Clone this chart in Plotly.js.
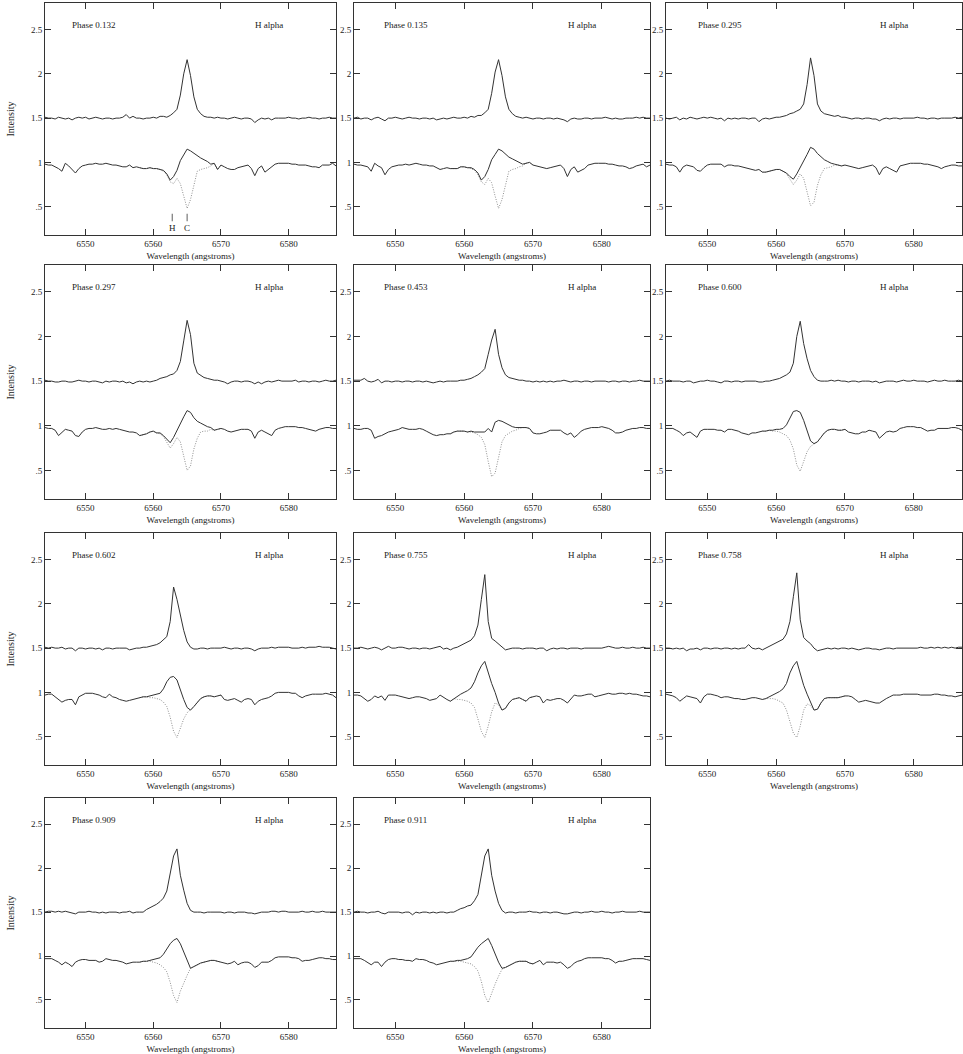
<!DOCTYPE html>
<html><head><meta charset="utf-8">
<script src="https://cdn.plot.ly/plotly-3.0.1.min.js"></script>
<style>html,body{margin:0;padding:0;background:#fff}#chart{width:963px;height:1054px}</style>
</head><body><div id="chart"></div>
<script>
// Wavelength grid (angstroms)
const WL = [6544,6544.5,6545,6545.5,6546,6546.5,6547,6547.5,6548,6548.5,
6549,6549.5,6550,6550.5,6551,6551.5,6552,6552.5,6553,6553.5,
6554,6554.5,6555,6555.5,6556,6556.5,6557,6557.5,6558,6558.5,
6559,6559.5,6560,6560.5,6561,6561.5,6562,6562.5,6563,6563.5,
6564,6564.5,6565,6565.5,6566,6566.5,6567,6567.5,6568,6568.5,
6569,6569.5,6570,6570.5,6571,6571.5,6572,6572.5,6573,6573.5,
6574,6574.5,6575,6575.5,6576,6576.5,6577,6577.5,6578,6578.5,
6579,6579.5,6580,6580.5,6581,6581.5,6582,6582.5,6583,6583.5,
6584,6584.5,6585,6585.5,6586,6586.5,6587];
const WL_CORE = [6558,6558.5,6559,6559.5,6560,6560.5,6561,6561.5,6562,6562.5,6563,6563.5,6564,6564.5,6565,6565.5,6566,6566.5,6567,6567.5,6568,6568.5,6569,6569.5,6570];

const PHASES = ['0.132','0.135','0.295','0.297','0.453','0.600','0.602','0.755','0.758','0.909','0.911'];
const LINE_NAME = 'H alpha';
const MARK_WL = [6562.8, 6565.0];
const MARK_TXT = ['H', 'C'];
const MARK_Y = 0.42;

// Phase 0.132
const TOP_0132 = [1.51,1.50,1.50,1.49,1.51,1.50,1.49,1.50,1.48,1.50,
1.51,1.50,1.51,1.49,1.50,1.51,1.50,1.49,1.50,1.50,
1.49,1.50,1.50,1.51,1.54,1.50,1.52,1.50,1.50,1.49,
1.50,1.50,1.51,1.50,1.52,1.52,1.51,1.53,1.56,1.60,
1.76,2.00,2.16,1.98,1.74,1.60,1.55,1.52,1.51,1.51,
1.50,1.51,1.50,1.50,1.49,1.50,1.51,1.50,1.49,1.50,
1.50,1.49,1.45,1.48,1.50,1.49,1.50,1.48,1.50,1.50,
1.50,1.50,1.51,1.50,1.50,1.49,1.50,1.50,1.51,1.50,
1.50,1.49,1.50,1.50,1.51,1.50,1.50];
const OBS_0132 = [0.98,0.97,0.97,0.95,0.93,0.90,0.99,0.96,0.92,0.88,
0.93,0.96,0.97,0.98,0.98,0.99,0.98,0.98,0.99,0.98,
0.97,0.97,0.96,0.95,0.95,0.97,0.94,0.95,0.94,0.93,
0.93,0.94,0.93,0.93,0.92,0.91,0.87,0.80,0.84,0.91,
1.02,1.09,1.15,1.13,1.10,1.07,1.05,1.03,1.01,0.98,
0.99,0.92,0.97,0.95,0.93,0.92,0.92,0.94,0.95,0.96,
0.97,0.93,0.85,0.93,0.96,0.89,0.92,0.95,0.98,0.99,
0.99,0.99,0.99,0.98,0.98,0.97,0.97,0.97,0.96,0.95,
0.95,0.94,0.97,0.97,0.97,0.99,0.96];
const MOD_0132 = [0.94,0.93,0.93,0.94,0.93,0.93,0.92,0.90,0.86,0.78,0.76,0.82,0.76,0.62,0.48,0.58,0.76,0.90,0.92,0.93,0.94,0.96,0.99,0.92,0.97];

// Phase 0.135
const TOP_0135 = [1.50,1.51,1.49,1.50,1.50,1.48,1.50,1.51,1.49,1.47,
1.50,1.50,1.51,1.50,1.49,1.50,1.51,1.50,1.50,1.49,
1.50,1.50,1.49,1.50,1.48,1.49,1.50,1.49,1.50,1.51,
1.50,1.50,1.51,1.50,1.52,1.51,1.53,1.53,1.56,1.60,
1.78,2.02,2.16,1.98,1.74,1.60,1.55,1.52,1.51,1.50,
1.51,1.50,1.49,1.50,1.50,1.49,1.50,1.50,1.49,1.50,
1.49,1.48,1.46,1.49,1.50,1.49,1.49,1.50,1.50,1.49,
1.50,1.50,1.50,1.51,1.50,1.49,1.50,1.49,1.49,1.50,
1.50,1.50,1.51,1.50,1.51,1.50,1.50];
const OBS_0135 = [0.98,0.97,0.97,0.96,0.95,0.90,0.99,0.96,0.94,0.86,
0.92,0.95,0.96,0.97,0.97,0.98,0.97,0.98,0.99,0.98,
0.97,0.97,0.96,0.96,0.94,0.92,0.93,0.94,0.93,0.93,
0.93,0.95,0.95,0.94,0.94,0.92,0.88,0.80,0.84,0.92,
1.03,1.09,1.15,1.13,1.09,1.06,1.04,1.02,1.00,0.98,
0.99,1.00,0.97,0.96,0.95,0.94,0.93,0.94,0.95,0.96,
0.97,0.93,0.84,0.92,0.95,0.89,0.91,0.93,0.97,0.98,
0.99,0.99,0.99,0.99,0.98,0.98,0.97,0.96,0.96,0.95,
0.93,0.94,0.96,0.97,0.98,0.95,0.97];
const MOD_0135 = [0.93,0.93,0.93,0.95,0.95,0.94,0.93,0.91,0.86,0.78,0.75,0.82,0.77,0.62,0.48,0.58,0.76,0.90,0.92,0.93,0.95,0.96,0.99,1.00,0.97];

// Phase 0.295
const TOP_0295 = [1.50,1.49,1.50,1.51,1.48,1.50,1.49,1.51,1.50,1.49,
1.50,1.51,1.50,1.51,1.50,1.49,1.50,1.47,1.50,1.49,
1.50,1.49,1.50,1.50,1.49,1.50,1.50,1.46,1.49,1.50,
1.49,1.50,1.51,1.51,1.52,1.53,1.55,1.56,1.58,1.60,
1.66,1.88,2.18,1.98,1.66,1.58,1.55,1.54,1.53,1.52,
1.53,1.51,1.51,1.50,1.49,1.50,1.50,1.49,1.50,1.50,
1.49,1.49,1.47,1.49,1.50,1.49,1.50,1.50,1.49,1.50,
1.50,1.50,1.50,1.51,1.50,1.50,1.49,1.50,1.50,1.49,
1.50,1.50,1.50,1.50,1.51,1.50,1.51];
const OBS_0295 = [0.98,0.97,0.97,0.95,0.89,0.95,0.97,0.96,0.95,0.91,
0.90,0.94,0.97,0.98,0.98,0.98,0.98,0.95,0.97,0.97,
0.96,0.96,0.95,0.94,0.93,0.92,0.91,0.92,0.89,0.89,
0.90,0.91,0.92,0.92,0.90,0.88,0.84,0.81,0.87,0.94,
1.02,1.09,1.17,1.15,1.10,1.06,1.03,1.01,0.99,0.98,
0.97,0.96,0.97,0.96,0.95,0.94,0.93,0.94,0.95,0.96,
0.97,0.94,0.86,0.93,0.95,0.93,0.91,0.89,0.96,0.97,
0.98,0.99,0.99,0.99,0.99,0.98,0.98,0.97,0.96,0.95,
0.93,0.95,0.96,0.97,0.97,0.96,0.96];
const MOD_0295 = [0.89,0.89,0.90,0.91,0.92,0.92,0.90,0.87,0.81,0.75,0.80,0.87,0.82,0.66,0.51,0.55,0.74,0.86,0.93,0.94,0.95,0.97,0.97,0.96,0.97];

// Phase 0.297
const TOP_0297 = [1.51,1.50,1.50,1.49,1.49,1.50,1.50,1.49,1.49,1.50,
1.51,1.50,1.50,1.49,1.50,1.50,1.49,1.48,1.50,1.49,
1.50,1.50,1.49,1.50,1.48,1.49,1.47,1.49,1.50,1.49,
1.50,1.49,1.50,1.51,1.53,1.54,1.55,1.57,1.58,1.62,
1.72,1.95,2.18,2.02,1.70,1.59,1.56,1.54,1.53,1.52,
1.51,1.51,1.50,1.49,1.47,1.49,1.50,1.50,1.49,1.50,
1.50,1.49,1.47,1.49,1.47,1.49,1.50,1.49,1.50,1.51,
1.50,1.50,1.50,1.50,1.51,1.49,1.50,1.50,1.49,1.50,
1.50,1.49,1.50,1.51,1.50,1.50,1.51];
const OBS_0297 = [0.98,0.97,0.97,0.95,0.89,0.93,0.96,0.95,0.94,0.89,
0.88,0.93,0.96,0.97,0.97,0.98,0.97,0.96,0.96,0.97,
0.96,0.97,0.96,0.95,0.94,0.93,0.93,0.92,0.89,0.90,
0.91,0.93,0.94,0.92,0.92,0.89,0.85,0.81,0.87,0.95,
1.03,1.10,1.17,1.15,1.09,1.05,1.03,1.01,0.99,0.98,
0.95,0.96,0.97,0.96,0.94,0.93,0.94,0.95,0.96,0.96,
0.96,0.94,0.86,0.93,0.95,0.93,0.91,0.89,0.95,0.97,
0.98,0.99,0.99,0.99,0.99,0.98,0.98,0.97,0.96,0.95,
0.94,0.96,0.97,0.98,0.98,0.97,0.97];
const MOD_0297 = [0.89,0.90,0.91,0.93,0.94,0.92,0.91,0.88,0.82,0.75,0.80,0.87,0.82,0.66,0.50,0.55,0.74,0.86,0.93,0.94,0.94,0.96,0.95,0.96,0.97];

// Phase 0.453
const TOP_0453 = [1.51,1.51,1.51,1.53,1.50,1.49,1.50,1.52,1.48,1.50,
1.50,1.49,1.50,1.50,1.49,1.50,1.50,1.49,1.50,1.50,
1.49,1.50,1.49,1.48,1.49,1.50,1.49,1.50,1.50,1.50,
1.50,1.51,1.51,1.52,1.53,1.55,1.57,1.60,1.64,1.80,
1.96,2.08,1.80,1.65,1.57,1.54,1.53,1.52,1.51,1.51,
1.50,1.50,1.49,1.50,1.49,1.50,1.49,1.50,1.49,1.50,
1.50,1.51,1.50,1.49,1.50,1.50,1.49,1.50,1.50,1.49,
1.50,1.50,1.50,1.50,1.49,1.50,1.50,1.49,1.50,1.50,
1.49,1.50,1.50,1.51,1.50,1.50,1.50];
const OBS_0453 = [0.97,0.96,0.96,0.97,0.97,0.95,0.86,0.88,0.89,0.91,
0.93,0.94,0.95,0.96,0.98,0.97,0.96,0.96,0.96,0.97,
0.96,0.94,0.92,0.90,0.89,0.90,0.90,0.91,0.91,0.93,
0.94,0.94,0.94,0.93,0.94,0.93,0.93,0.93,0.93,0.97,
0.93,1.04,1.06,1.05,1.03,1.01,0.99,0.98,0.98,0.98,
0.98,0.97,0.92,0.91,0.91,0.92,0.93,0.95,0.95,0.95,
0.95,0.92,0.90,0.92,0.87,0.90,0.94,0.96,0.97,0.98,
0.98,0.98,0.99,0.98,0.97,0.95,0.92,0.92,0.93,0.95,
0.96,0.97,0.97,0.98,0.98,0.97,0.97];
const MOD_0453 = [0.91,0.93,0.94,0.94,0.94,0.93,0.93,0.92,0.90,0.87,0.79,0.60,0.43,0.47,0.66,0.82,0.89,0.92,0.94,0.95,0.97,0.98,0.98,0.97,0.92];

// Phase 0.600
const TOP_0600 = [1.50,1.51,1.50,1.50,1.50,1.49,1.50,1.50,1.48,1.49,
1.50,1.50,1.51,1.50,1.50,1.49,1.48,1.50,1.50,1.49,
1.50,1.50,1.49,1.50,1.50,1.50,1.50,1.49,1.49,1.50,
1.50,1.51,1.52,1.53,1.55,1.57,1.60,1.70,2.00,2.17,
1.92,1.75,1.62,1.55,1.51,1.50,1.50,1.50,1.51,1.50,
1.51,1.50,1.50,1.49,1.50,1.50,1.49,1.50,1.50,1.50,
1.49,1.50,1.48,1.49,1.50,1.50,1.50,1.49,1.50,1.51,
1.50,1.50,1.51,1.50,1.50,1.50,1.49,1.50,1.51,1.50,
1.50,1.51,1.50,1.50,1.50,1.51,1.50];
const OBS_0600 = [0.97,0.97,0.97,0.95,0.93,0.89,0.92,0.93,0.90,0.87,
0.94,0.96,0.96,0.96,0.96,0.95,0.95,0.93,0.96,0.96,
0.95,0.94,0.92,0.91,0.90,0.92,0.92,0.93,0.94,0.94,
0.95,0.95,0.96,0.96,0.97,1.01,1.09,1.16,1.17,1.15,
1.06,0.94,0.83,0.80,0.82,0.87,0.92,0.95,0.96,0.96,
0.95,0.95,0.96,0.93,0.92,0.91,0.91,0.93,0.93,0.95,
0.94,0.93,0.86,0.90,0.93,0.94,0.93,0.94,0.97,0.98,
0.99,0.99,0.99,0.98,0.98,0.96,0.94,0.95,0.95,0.97,
0.97,0.97,0.97,0.98,0.98,0.97,0.95];
const MOD_0600 = [0.94,0.94,0.95,0.94,0.94,0.93,0.91,0.89,0.84,0.74,0.56,0.49,0.60,0.71,0.77,0.80,0.82,0.87,0.92,0.95,0.96,0.96,0.95,0.95,0.96];

// Phase 0.602
const TOP_0602 = [1.51,1.50,1.51,1.50,1.50,1.51,1.49,1.50,1.50,1.47,
1.50,1.50,1.49,1.50,1.50,1.49,1.50,1.48,1.50,1.50,
1.49,1.50,1.50,1.50,1.50,1.48,1.49,1.50,1.50,1.51,
1.51,1.52,1.53,1.54,1.56,1.59,1.63,1.80,2.19,2.05,
1.86,1.70,1.57,1.51,1.49,1.49,1.50,1.50,1.49,1.50,
1.50,1.50,1.50,1.51,1.50,1.49,1.50,1.50,1.49,1.50,
1.50,1.49,1.47,1.49,1.50,1.50,1.50,1.51,1.50,1.51,
1.51,1.51,1.51,1.50,1.50,1.50,1.51,1.50,1.51,1.51,
1.51,1.52,1.51,1.51,1.51,1.50,1.49];
const OBS_0602 = [0.97,0.98,0.98,0.95,0.93,0.89,0.91,0.92,0.92,0.86,
0.95,0.97,0.99,0.99,0.99,0.98,0.97,0.95,0.94,0.98,
0.95,0.94,0.92,0.91,0.90,0.91,0.92,0.93,0.94,0.95,
0.95,0.96,0.97,0.98,0.99,1.04,1.12,1.17,1.18,1.14,
1.02,0.92,0.83,0.80,0.84,0.89,0.93,0.95,0.96,0.96,
0.95,0.96,0.97,0.92,0.91,0.92,0.93,0.91,0.89,0.92,
0.93,0.92,0.86,0.90,0.92,0.93,0.94,0.96,0.99,1.00,
1.00,1.00,1.00,0.99,0.99,0.96,0.94,0.96,0.97,0.98,
0.98,0.98,0.98,0.99,0.98,0.97,0.94];
const MOD_0602 = [0.94,0.95,0.95,0.94,0.94,0.93,0.92,0.89,0.84,0.72,0.56,0.49,0.60,0.70,0.77,0.80,0.84,0.89,0.93,0.95,0.96,0.96,0.95,0.96,0.97];

// Phase 0.755
const TOP_0755 = [1.50,1.50,1.51,1.50,1.49,1.50,1.51,1.50,1.48,1.50,
1.52,1.50,1.50,1.51,1.51,1.50,1.49,1.50,1.50,1.49,
1.50,1.50,1.49,1.50,1.51,1.52,1.49,1.50,1.48,1.50,
1.51,1.53,1.55,1.57,1.59,1.64,1.76,2.05,2.33,1.80,
1.61,1.58,1.55,1.52,1.48,1.49,1.50,1.50,1.50,1.49,
1.50,1.50,1.50,1.49,1.50,1.50,1.47,1.49,1.50,1.49,
1.50,1.50,1.49,1.50,1.50,1.50,1.49,1.50,1.50,1.50,
1.50,1.50,1.50,1.51,1.52,1.51,1.50,1.50,1.51,1.50,
1.50,1.51,1.50,1.50,1.51,1.50,1.50];
const OBS_0755 = [0.97,0.97,0.96,0.93,0.90,0.92,0.96,0.94,0.96,0.91,
0.97,0.97,0.97,0.96,0.95,0.94,0.93,0.94,0.95,0.95,
0.94,0.93,0.91,0.92,0.93,0.97,0.94,0.92,0.90,0.93,
0.95,0.98,1.00,1.02,1.05,1.12,1.22,1.30,1.35,1.22,
1.10,1.00,0.88,0.80,0.82,0.88,0.92,0.93,0.94,0.92,
0.90,0.94,0.95,0.96,0.95,0.88,0.92,0.91,0.92,0.93,
0.93,0.91,0.88,0.92,0.97,0.96,0.96,0.97,0.98,0.98,
0.95,0.96,0.97,0.98,0.99,0.98,0.98,0.99,0.99,0.98,
0.99,0.98,0.98,0.97,0.96,0.96,0.95];
const MOD_0755 = [0.90,0.93,0.92,0.92,0.91,0.90,0.88,0.83,0.70,0.56,0.49,0.62,0.78,0.88,0.86,0.80,0.82,0.88,0.92,0.93,0.94,0.92,0.90,0.94,0.95];

// Phase 0.758
const TOP_0758 = [1.50,1.50,1.49,1.50,1.49,1.50,1.47,1.49,1.49,1.50,
1.48,1.50,1.50,1.49,1.50,1.50,1.49,1.50,1.50,1.49,
1.50,1.49,1.50,1.50,1.54,1.50,1.49,1.50,1.48,1.50,
1.52,1.54,1.56,1.58,1.60,1.66,1.80,2.08,2.35,1.82,
1.62,1.58,1.55,1.50,1.47,1.48,1.49,1.50,1.49,1.50,
1.49,1.50,1.50,1.49,1.50,1.49,1.48,1.49,1.50,1.50,
1.49,1.49,1.48,1.49,1.50,1.50,1.49,1.50,1.50,1.50,
1.50,1.50,1.50,1.50,1.51,1.50,1.50,1.51,1.50,1.51,
1.50,1.51,1.50,1.51,1.50,1.51,1.51];
const OBS_0758 = [0.98,0.97,0.96,0.94,0.90,0.93,0.96,0.95,0.94,0.93,
0.88,0.95,0.98,0.98,0.97,0.96,0.94,0.95,0.95,0.94,
0.93,0.93,0.92,0.92,0.93,0.94,0.94,0.93,0.92,0.93,
0.95,0.97,0.99,1.01,1.04,1.10,1.22,1.30,1.35,1.22,
1.08,0.98,0.88,0.80,0.81,0.88,0.93,0.94,0.94,0.94,
0.94,0.95,0.96,0.96,0.95,0.92,0.89,0.90,0.91,0.90,
0.89,0.88,0.88,0.91,0.93,0.95,0.97,0.97,0.97,0.98,
0.98,0.98,0.98,0.98,0.97,0.97,0.97,0.97,0.98,0.98,
0.97,0.97,0.96,0.96,0.95,0.96,0.97];
const MOD_0758 = [0.92,0.93,0.93,0.93,0.92,0.90,0.88,0.80,0.66,0.54,0.49,0.62,0.80,0.87,0.85,0.80,0.81,0.88,0.93,0.94,0.94,0.94,0.94,0.95,0.96];

// Phase 0.909
const TOP_0909 = [1.50,1.51,1.51,1.50,1.51,1.50,1.51,1.50,1.49,1.48,
1.50,1.50,1.50,1.51,1.50,1.50,1.49,1.50,1.49,1.50,
1.50,1.50,1.49,1.50,1.50,1.51,1.49,1.50,1.50,1.50,
1.53,1.55,1.57,1.59,1.62,1.66,1.74,1.95,2.14,2.22,
1.92,1.75,1.60,1.52,1.50,1.50,1.50,1.49,1.50,1.50,
1.50,1.50,1.50,1.49,1.50,1.50,1.49,1.50,1.50,1.50,
1.49,1.49,1.48,1.49,1.50,1.50,1.50,1.51,1.51,1.50,
1.51,1.51,1.50,1.50,1.50,1.50,1.51,1.50,1.50,1.51,
1.50,1.50,1.51,1.50,1.50,1.50,1.50];
const OBS_0909 = [0.97,0.97,0.97,0.95,0.93,0.90,0.93,0.91,0.88,0.93,
0.95,0.96,0.96,0.95,0.95,0.95,0.93,0.94,0.97,0.96,
0.95,0.95,0.94,0.93,0.91,0.92,0.93,0.93,0.93,0.94,
0.94,0.95,0.96,0.97,0.98,1.02,1.08,1.14,1.18,1.20,
1.14,1.04,0.94,0.86,0.88,0.90,0.92,0.93,0.94,0.95,
0.95,0.94,0.93,0.92,0.91,0.92,0.94,0.90,0.92,0.93,
0.93,0.91,0.87,0.89,0.93,0.93,0.93,0.95,0.98,0.99,
0.99,0.99,0.99,0.98,0.98,0.97,0.94,0.95,0.95,0.96,
0.97,0.98,0.98,0.97,0.97,0.96,0.96];
const MOD_0909 = [0.93,0.94,0.94,0.94,0.93,0.92,0.90,0.87,0.82,0.70,0.55,0.47,0.60,0.70,0.78,0.86,0.88,0.90,0.92,0.93,0.94,0.95,0.95,0.94,0.93];

// Phase 0.911
const TOP_0911 = [1.50,1.51,1.50,1.50,1.49,1.50,1.50,1.51,1.49,1.48,
1.50,1.50,1.50,1.50,1.49,1.50,1.50,1.47,1.50,1.49,
1.50,1.50,1.49,1.50,1.49,1.50,1.50,1.49,1.50,1.50,
1.52,1.54,1.55,1.57,1.58,1.63,1.70,1.92,2.14,2.22,
1.92,1.74,1.60,1.52,1.49,1.50,1.50,1.49,1.50,1.50,
1.50,1.51,1.50,1.50,1.49,1.50,1.50,1.49,1.50,1.50,
1.49,1.48,1.48,1.49,1.50,1.50,1.49,1.50,1.50,1.51,
1.50,1.50,1.51,1.50,1.50,1.49,1.50,1.50,1.51,1.50,
1.50,1.50,1.50,1.51,1.50,1.50,1.50];
const OBS_0911 = [0.97,0.97,0.97,0.95,0.92,0.90,0.93,0.93,0.88,0.93,
0.96,0.97,0.97,0.96,0.96,0.95,0.95,0.94,0.97,0.96,
0.96,0.95,0.93,0.92,0.90,0.91,0.92,0.93,0.94,0.94,
0.95,0.95,0.96,0.97,0.99,1.05,1.10,1.14,1.17,1.20,
1.12,1.02,0.93,0.86,0.87,0.89,0.91,0.93,0.94,0.94,
0.94,0.92,0.91,0.93,0.95,0.90,0.93,0.93,0.93,0.92,
0.93,0.90,0.86,0.88,0.92,0.94,0.95,0.97,0.98,0.98,
0.98,0.98,0.98,0.97,0.97,0.95,0.92,0.94,0.94,0.95,
0.96,0.97,0.97,0.97,0.97,0.96,0.95];
const MOD_0911 = [0.94,0.94,0.94,0.94,0.93,0.92,0.91,0.88,0.83,0.71,0.55,0.47,0.58,0.68,0.77,0.85,0.87,0.89,0.91,0.93,0.94,0.94,0.94,0.92,0.91];

const TOPS = [TOP_0132,TOP_0135,TOP_0295,TOP_0297,TOP_0453,TOP_0600,TOP_0602,TOP_0755,TOP_0758,TOP_0909,TOP_0911];
const OBSS = [OBS_0132,OBS_0135,OBS_0295,OBS_0297,OBS_0453,OBS_0600,OBS_0602,OBS_0755,OBS_0758,OBS_0909,OBS_0911];
const MODS = [MOD_0132,MOD_0135,MOD_0295,MOD_0297,MOD_0453,MOD_0600,MOD_0602,MOD_0755,MOD_0758,MOD_0909,MOD_0911];

const X_TICKS = [6550,6560,6570,6580];
const Y_TICKS = [0.5,1,1.5,2,2.5];
const Y_TICKTEXT = ['.5','1','1.5','2','2.5'];

// layout geometry (pixels)
const W = 963, H = 1054;
const COLS = [[45,336],[354,650],[666,962]];
const ROWS = [[3,235],[265,499],[533,765],[798,1028]];
const LABEL_X = [6547.7, 6548.1, 6548.4];
const FONT = 'Liberation Serif, serif';
const INK = '#333';

const traces = [];
const layout = {
  width: W, height: H, margin: {l:0, r:0, t:0, b:0},
  showlegend: false, paper_bgcolor: '#fff', plot_bgcolor: '#fff',
  font: {family: FONT, size: 9, color: '#222'},
  annotations: []
};

PHASES.forEach((ph, i) => {
  const r = Math.floor(i / 3), c = i % 3;
  const k = i === 0 ? '' : String(i + 1);
  const xa = 'x' + k, ya = 'y' + k;
  traces.push({x: WL_CORE, y: MODS[i], xaxis: xa, yaxis: ya, mode: 'lines',
    line: {color: '#909090', width: 1, dash: '1px,1.5px'}, hoverinfo: 'skip'});
  traces.push({x: WL, y: OBSS[i], xaxis: xa, yaxis: ya, mode: 'lines',
    line: {color: INK, width: 1}, hoverinfo: 'skip'});
  traces.push({x: WL, y: TOPS[i], xaxis: xa, yaxis: ya, mode: 'lines',
    line: {color: INK, width: 1}, hoverinfo: 'skip'});
  const axCommon = {showline: true, linecolor: INK, linewidth: 1, mirror: 'ticks',
    ticks: 'inside', ticklen: 6, tickcolor: INK, tickwidth: 1,
    showgrid: false, zeroline: false, fixedrange: true,
    tickfont: {family: FONT, size: 9, color: '#222'}};
  layout['xaxis' + k] = Object.assign({}, axCommon, {
    domain: [COLS[c][0] / W, COLS[c][1] / W], anchor: ya,
    range: [6544, 6587], tickmode: 'array', tickvals: X_TICKS,
    title: {text: 'Wavelength (angstroms)', font: {family: FONT, size: 9, color: '#222'}, standoff: 4}
  });
  const yax = Object.assign({}, axCommon, {
    domain: [1 - ROWS[r][1] / H, 1 - ROWS[r][0] / H], anchor: xa,
    range: [0.18, 2.8], tickmode: 'array', tickvals: Y_TICKS, ticktext: Y_TICKTEXT
  });
  if (c === 0) yax.title = {text: 'Intensity', font: {family: FONT, size: 10, color: '#222'}, standoff: 14};
  layout['yaxis' + k] = yax;
  layout.annotations.push({xref: xa, yref: ya, x: LABEL_X[c], y: 2.55, xanchor: 'left', yanchor: 'middle',
    text: 'Phase ' + ph, showarrow: false, font: {family: FONT, size: 9, color: '#222'}});
  layout.annotations.push({xref: xa, yref: ya, x: 6574.8, y: 2.55, xanchor: 'left', yanchor: 'middle',
    text: LINE_NAME, showarrow: false, font: {family: FONT, size: 9, color: '#222'}});
  if (i === 0) {
    MARK_WL.forEach((w, j) => {
      layout.annotations.push({xref: xa, yref: ya, x: w, y: MARK_Y, text: MARK_TXT[j],
        showarrow: true, arrowhead: 0, arrowwidth: 0.8, arrowcolor: INK, ax: 0, ay: 14,
        font: {family: FONT, size: 9, color: '#222'}});
    });
  }
});

Plotly.newPlot('chart', traces, layout, {staticPlot: true, displayModeBar: false});
</script>
</body></html>
